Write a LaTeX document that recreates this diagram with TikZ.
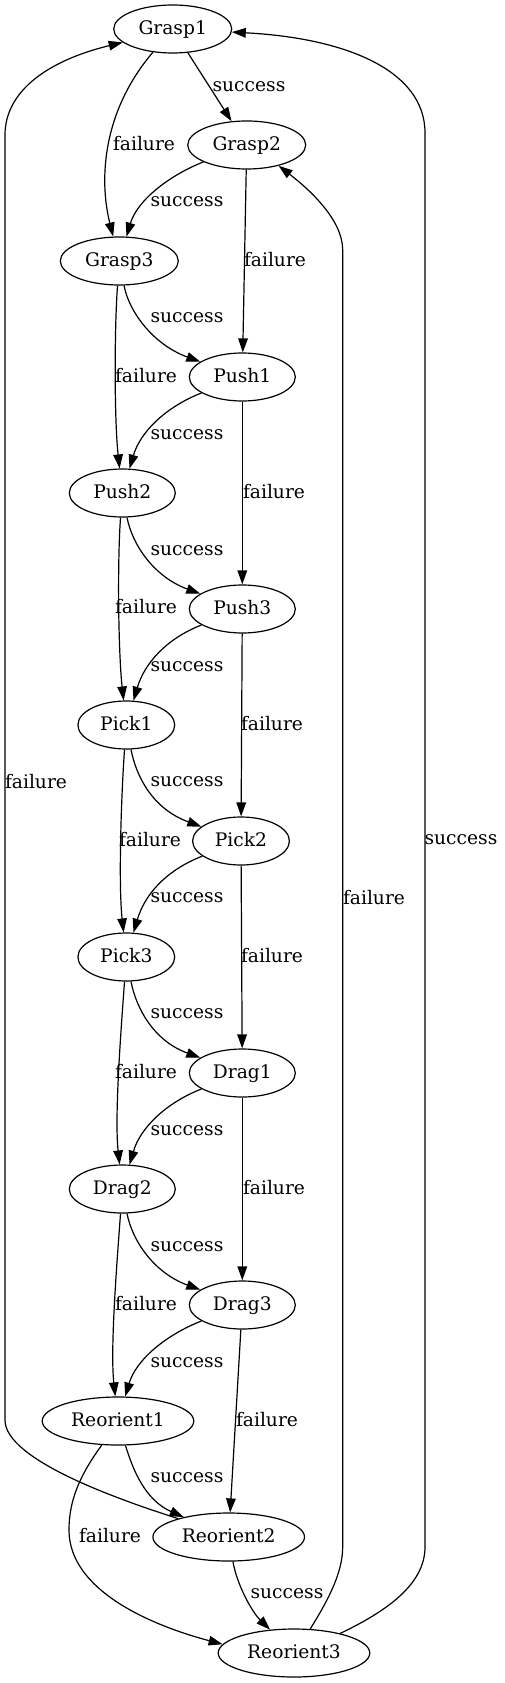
\documentclass[tikz,border=0pt]{standalone}
\usepackage{fontspec}
\setmainfont{DejaVu Serif}
\usetikzlibrary{shapes.geometric,arrows.meta,calc}
\begin{document}
\begin{tikzpicture}[x=0.75pt,y=-0.75pt,
  font=\fontsize{14}{16}\selectfont,
  st/.style={ellipse, draw, line width=0.9pt, inner sep=0pt, minimum height=36pt, text height=10.5pt, text depth=2pt},
  gw/.style={st, minimum width=88.5pt},
  pw/.style={st, minimum width=79.5pt},
  kw/.style={st, minimum width=72.6pt},
  rw/.style={st, minimum width=113.7pt},
  lbl/.style={inner sep=0pt},
  conn/.style={draw, line width=0.9pt, -{Triangle[length=10.5pt,width=7.2pt]}}]
\useasboundingbox (0,0) rectangle (504,1683);
% nodes
\node[gw] (G1) at (172.7,29) {Grasp1};
\node[gw] (G2) at (246.7,145) {Grasp2};
\node[gw] (G3) at (119.3,261) {Grasp3};
\node[pw] (P1) at (242.3,377) {Push1};
\node[pw] (P2) at (122.3,493) {Push2};
\node[pw] (P3) at (242.3,609) {Push3};
\node[kw] (K1) at (126.3,725) {Pick1};
\node[kw] (K2) at (241,841) {Pick2};
\node[kw] (K3) at (126.3,957) {Pick3};
\node[pw] (D1) at (242.3,1073) {Drag1};
\node[pw] (D2) at (122.3,1189) {Drag2};
\node[pw] (D3) at (242.3,1305) {Drag3};
\node[rw] (R1) at (118,1421) {Reorient1};
\node[rw] (R2) at (228.7,1537) {Reorient2};
\node[rw] (R3) at (294,1653) {Reorient3};
% top edges
\draw[conn] (G1) -- (G2);
\draw[conn] (G1) .. controls (102,112) and (99,180) .. (G3);
% success right -> left
\draw[conn] (G2) .. controls ($(G2)+(-76.7,30)$) and ($(G3)+(18,-61)$) .. (G3);
\draw[conn] (P1) .. controls ($(P1)+(-76.7,30)$) and ($(P2)+(18,-61)$) .. (P2);
\draw[conn] (P3) .. controls ($(P3)+(-76.7,30)$) and ($(K1)+(18,-61)$) .. (K1);
\draw[conn] (K2) .. controls ($(K2)+(-76.7,30)$) and ($(K3)+(18,-61)$) .. (K3);
\draw[conn] (D1) .. controls ($(D1)+(-76.7,30)$) and ($(D2)+(18,-61)$) .. (D2);
\draw[conn] (D3) .. controls ($(D3)+(-76.7,30)$) and ($(R1)+(18,-61)$) .. (R1);
% success left -> right
\draw[conn] (G3) .. controls ($(G3)+(10,52)$) and ($(P1)+(-88,-32)$) .. (P1);
\draw[conn] (P2) .. controls ($(P2)+(10,52)$) and ($(P3)+(-88,-32)$) .. (P3);
\draw[conn] (K1) .. controls ($(K1)+(10,52)$) and ($(K2)+(-88,-32)$) .. (K2);
\draw[conn] (K3) .. controls ($(K3)+(10,52)$) and ($(D1)+(-88,-32)$) .. (D1);
\draw[conn] (D2) .. controls ($(D2)+(10,52)$) and ($(D3)+(-88,-32)$) .. (D3);
% failure left column
\draw[conn] (G3) .. controls ($(G3)+(-5,69)$) and ($(P2)+(-8,-73)$) .. (P2);
\draw[conn] (P2) .. controls ($(P2)+(-5,69)$) and ($(K1)+(-8,-73)$) .. (K1);
\draw[conn] (K1) .. controls ($(K1)+(-5,69)$) and ($(K3)+(-8,-73)$) .. (K3);
\draw[conn] (K3) .. controls ($(K3)+(-5,69)$) and ($(D2)+(-8,-73)$) .. (D2);
\draw[conn] (D2) .. controls ($(D2)+(-5,69)$) and ($(R1)+(-8,-73)$) .. (R1);
% failure right column
\draw[conn] (G2) -- (P1);
\draw[conn] (P1) -- (P3);
\draw[conn] (P3) -- (K2);
\draw[conn] (K2) -- (D1);
\draw[conn] (D1) -- (D3);
\draw[conn] (D3) -- (R2);
% bottom
\draw[conn] (R1) .. controls (133,1470) and (145,1500) .. (R2);
\draw[conn] (R1.236) .. controls (80,1475) and (69,1500) .. (69,1530) .. controls (69,1590) and (150,1625) .. (R3.173);
\draw[conn] (R2) .. controls (237,1585) and (252,1612) .. (R3);
% loops
\draw[conn] (R2.160) .. controls (120,1500) and (5,1460) .. (5,1420) -- (5,135) .. controls (5,90) and (50,60) .. (G1.195);
\draw[conn] (R3.56) .. controls (325,1605) and (342.7,1575) .. (342.7,1547) -- (342.7,250) .. controls (342.7,220) and (310,190) .. (G2.327);
\draw[conn] (R3.23) .. controls (385,1612) and (425,1585) .. (425,1547) -- (425,133) .. controls (425,70) and (345,38) .. (G1.-3);
% labels
\node[lbl] (l1) at (249,87) {success};
\node[lbl] (l2) at (144,144) {failure};
\node[lbl] (l3) at (187,202) {success};
\node[lbl] (l4) at (275,260) {failure};
\node[lbl] (l5) at (187,318) {success};
\node[lbl] (l6) at (146,376) {failure};
\node[lbl] (l7) at (187,435) {success};
\node[lbl] (l8) at (274,492) {failure};
\node[lbl] (l9) at (187,551) {success};
\node[lbl] (l10) at (146,607) {failure};
\node[lbl] (l11) at (187,667) {success};
\node[lbl] (l12) at (272,724) {failure};
\node[lbl] (l13) at (187,782) {success};
\node[lbl] (l14) at (150,840) {failure};
\node[lbl] (l15) at (187,898) {success};
\node[lbl] (l16) at (272,956) {failure};
\node[lbl] (l17) at (187,1014) {success};
\node[lbl] (l18) at (146,1072) {failure};
\node[lbl] (l19) at (187,1131) {success};
\node[lbl] (l20) at (274,1188) {failure};
\node[lbl] (l21) at (187,1247) {success};
\node[lbl] (l22) at (146,1304) {failure};
\node[lbl] (l23) at (187,1363) {success};
\node[lbl] (l24) at (267,1420) {failure};
\node[lbl] (l25) at (187,1478) {success};
\node[lbl] (l26) at (110,1536) {failure};
\node[lbl] (l27) at (287,1594) {success};
\node[lbl] (l28) at (36,782) {failure};
\node[lbl] (l29) at (374,898) {failure};
\node[lbl] (l30) at (461,840) {success};
\end{tikzpicture}
\end{document}
